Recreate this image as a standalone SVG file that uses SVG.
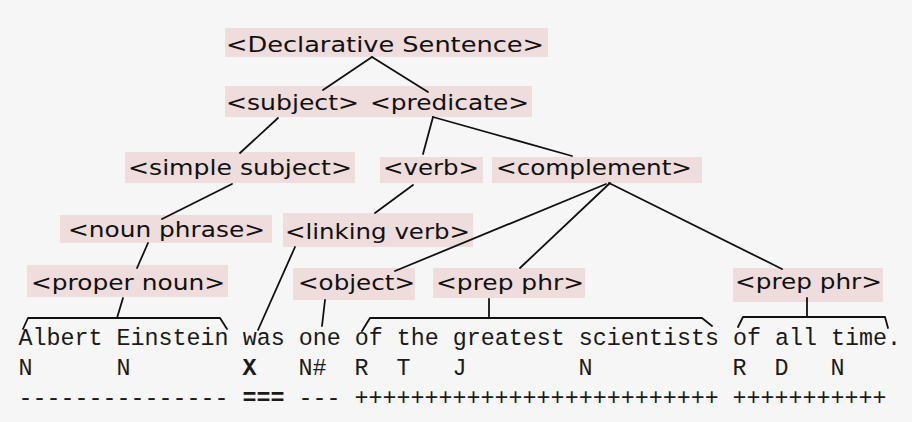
<svg xmlns="http://www.w3.org/2000/svg" width="912" height="422" viewBox="0 0 912 422">
<style>
.bg{fill:#f6f6f6}
.box{fill:#efdcdc}
.lbl{font-family:"DejaVu Sans","Verdana",sans-serif;font-size:22px;fill:#111}
.mono{font-family:"Liberation Mono","Courier New",monospace;font-size:23.35px;fill:#1a1a1a}
.b{font-weight:bold}
.ln{stroke:#111;stroke-width:1.8;fill:none;stroke-linecap:round;stroke-linejoin:round}
</style>
<rect class="bg" x="0" y="0" width="912" height="422"/>
<g id="declarative-sentence">
<rect class="box" x="225" y="28" width="323" height="29"/>
<text class="lbl" x="226" y="52" textLength="318" lengthAdjust="spacingAndGlyphs">&lt;Declarative Sentence&gt;</text>
</g>
<g id="subject">
<rect class="box" x="225" y="86" width="142" height="31"/>
<text class="lbl" x="226" y="110" textLength="133" lengthAdjust="spacingAndGlyphs">&lt;subject&gt;</text>
</g>
<g id="predicate">
<rect class="box" x="366" y="86" width="166" height="31"/>
<text class="lbl" x="370" y="110" textLength="159" lengthAdjust="spacingAndGlyphs">&lt;predicate&gt;</text>
</g>
<g id="simple-subject">
<rect class="box" x="125" y="152" width="230" height="31"/>
<text class="lbl" x="128" y="175" textLength="224" lengthAdjust="spacingAndGlyphs">&lt;simple subject&gt;</text>
</g>
<g id="verb">
<rect class="box" x="380" y="157" width="103" height="26"/>
<text class="lbl" x="383" y="175" textLength="96" lengthAdjust="spacingAndGlyphs">&lt;verb&gt;</text>
</g>
<g id="complement">
<rect class="box" x="492" y="157" width="210" height="26"/>
<text class="lbl" x="496" y="175" textLength="196" lengthAdjust="spacingAndGlyphs">&lt;complement&gt;</text>
</g>
<g id="noun-phrase">
<rect class="box" x="60" y="215" width="212" height="28"/>
<text class="lbl" x="68" y="237" textLength="197" lengthAdjust="spacingAndGlyphs">&lt;noun phrase&gt;</text>
</g>
<g id="linking-verb">
<rect class="box" x="283" y="213" width="190" height="34"/>
<text class="lbl" x="285" y="239" textLength="185" lengthAdjust="spacingAndGlyphs">&lt;linking verb&gt;</text>
</g>
<g id="proper-noun">
<rect class="box" x="27" y="265" width="201" height="32"/>
<text class="lbl" x="31" y="290" textLength="194" lengthAdjust="spacingAndGlyphs">&lt;proper noun&gt;</text>
</g>
<g id="object">
<rect class="box" x="293" y="268" width="122" height="32"/>
<text class="lbl" x="298" y="290" textLength="117" lengthAdjust="spacingAndGlyphs">&lt;object&gt;</text>
</g>
<g id="prep-phr-1">
<rect class="box" x="433" y="268" width="152" height="30"/>
<text class="lbl" x="436" y="290" textLength="148" lengthAdjust="spacingAndGlyphs">&lt;prep phr&gt;</text>
</g>
<g id="prep-phr-2">
<rect class="box" x="733" y="268" width="150" height="34"/>
<text class="lbl" x="735" y="289" textLength="147" lengthAdjust="spacingAndGlyphs">&lt;prep phr&gt;</text>
</g>
<g id="sentence">
<text class="mono" x="18.5" y="345">Albert Einstein was one of the greatest scientists of all time.</text>
</g>
<g id="tags">
<text class="mono" x="18.5" y="375">N</text>
<text class="mono" x="116.5" y="375">N</text>
<text class="mono b" x="242.5" y="375">X</text>
<text class="mono" x="298.5" y="375">N#</text>
<text class="mono" x="354.5" y="375">R</text>
<text class="mono" x="396.5" y="375">T</text>
<text class="mono" x="452.5" y="375">J</text>
<text class="mono" x="578.5" y="375">N</text>
<text class="mono" x="732.5" y="375">R</text>
<text class="mono" x="774.5" y="375">D</text>
<text class="mono" x="830.5" y="375">N</text>
</g>
<g id="marks">
<text class="mono" x="18.5" y="405">---------------</text>
<text class="mono b" x="242.5" y="405">===</text>
<text class="mono" x="298.5" y="405">---</text>
<text class="mono" x="354.5" y="405">++++++++++++++++++++++++++</text>
<text class="mono" x="732.5" y="405">+++++++++++</text>
</g>
<g id="connectors">
<path class="ln" d="M372,57 L323,90"/>
<path class="ln" d="M372,57 L428,92"/>
<path class="ln" d="M433,117 L423,154"/>
<path class="ln" d="M433,117 L572,156"/>
<path class="ln" d="M278,118 L240,153"/>
<path class="ln" d="M232,184 L162,219"/>
<path class="ln" d="M413,185 L375,213"/>
<path class="ln" d="M148,243 L137,268"/>
<path class="ln" d="M295,247 L258,330"/>
<path class="ln" d="M606,184 L395,271"/>
<path class="ln" d="M610,183 L520,268"/>
<path class="ln" d="M609,183 L782,269"/>
<path class="ln" d="M123,298 L117,318"/>
<path class="ln" d="M23,329 L28,318 L220,318 L227,329"/>
<path class="ln" d="M325,300 L322,326"/>
<path class="ln" d="M489,299 L489,318"/>
<path class="ln" d="M362,331 L370,318 L702,318 L712,326"/>
<path class="ln" d="M807,298 L807,317"/>
<path class="ln" d="M738,327 L743,317 L885,317 L888,328"/>
</g>
</svg>
